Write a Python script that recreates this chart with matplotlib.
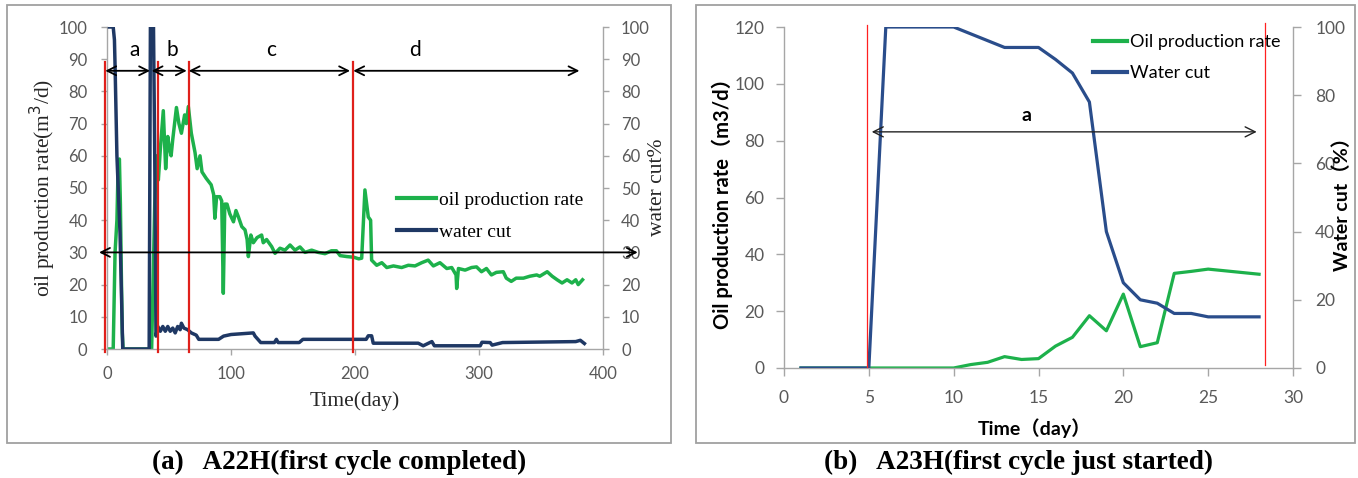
import matplotlib
matplotlib.use("Agg")
import matplotlib.pyplot as plt
from matplotlib.patches import Rectangle
from matplotlib.lines import Line2D

# ---------------- data: panel (a) A22H ----------------
a_oil_day = [1, 5, 6.5, 8, 9, 10, 10.8, 11.5, 12.3, 13, 36, 38.5, 40, 41.4, 43, 45.4, 47.3, 49, 50, 51.7,
             53, 56, 58, 60, 62.6, 64, 65.6, 68, 71, 72.7, 75, 76.6, 80, 84, 86, 87, 88.4, 91, 92.5, 93.8,
             95, 96.8, 99, 102, 104, 106, 108.7, 111.3, 113, 114, 116, 118, 121, 124.7, 126, 128.7, 132.8,
             135.5, 139.5, 143.5, 147.6, 151.6, 155.6, 159.7, 165, 170.4, 175.8, 181, 185, 188, 193.5, 199,
             203, 205.4, 208, 210.7, 212.6, 213.4, 217.5, 221.6, 225.6, 231, 237.6, 243, 248.4, 253.8, 259,
             263.2, 268.5, 274, 278, 281.5, 282, 283.4, 288.8, 294, 298, 302, 306, 310, 314, 319.6, 322, 326,
             330, 335.8, 341, 346.5, 349, 355, 359, 363, 367, 371, 375, 378, 380, 383.5]
a_oil_rate = [0, 0, 30, 40, 57, 59, 45, 25, 5, 0, 0, 45, 60, 52.5, 62, 74, 56, 66, 63, 60,
              65, 75, 70, 67, 72.7, 70, 75.3, 67, 61, 56, 60, 55, 53, 51, 48, 40.6, 47.3, 47.3, 46, 17.3,
              45, 45, 42, 39.5, 43, 41, 38, 37, 34, 28.7, 35.4, 33, 34.6, 35.4, 33, 34, 31.8,
              29.7, 31.3, 30.7, 32.3, 30.7, 31.7, 30, 30.7, 30, 29.6, 30.5, 30.5, 29, 28.7, 28.5,
              28, 28.2, 49.4, 41, 40, 27.6, 26, 26.8, 25.3, 25.8, 25.3, 26, 25.8, 26.8, 27.6,
              25.8, 26.8, 25, 25.3, 23, 18.8, 25, 24.5, 25.3, 25.5, 24, 25, 23, 23.8, 24, 22, 21,
              22, 22, 22.6, 23, 22.6, 24, 22.6, 21.5, 20.5, 21.5, 20.5, 21.5, 20, 21.5]

a_wc_day = [2, 5, 6, 6.5, 8, 10.5, 12.7, 34, 35, 37.5, 38.5, 39.5, 41, 43, 45, 47, 49, 51, 53, 55, 57, 59,
            60, 62, 65, 68, 72, 74, 90, 94, 100, 118, 119.4, 124, 135, 136.6, 138, 155, 158, 209, 210.7,
            213.4, 214.7, 251, 255, 262, 264, 301, 302.4, 309, 310.6, 319, 378, 381.7, 385]
a_wc = [100, 100, 96, 88, 60, 36, 0, 0, 100, 100, 60, 4, 7, 5.5, 7, 5.5, 7, 5.5, 6.5, 5, 7, 6,
        8, 6.5, 6, 5, 4.3, 3, 3, 4, 4.5, 5, 4, 2, 2, 3, 2, 2, 3, 3, 4.1,
        4.1, 1.8, 1.8, 1, 2.3, 1, 1, 2.1, 2, 1.2, 2, 2.3, 2.7, 1.7]

a_xticks = [0, 100, 200, 300, 400]
a_yticks = list(range(0, 101, 10))
a_stage_labels = ["a", "b", "c", "d"]

# ---------------- data: panel (b) A23H ----------------
b_day = list(range(1, 29))
b_oil = [0, 0, 0, 0, 0, 0, 0, 0, 0, 0, 1.2, 2.0, 4.0, 3.0, 3.3, 7.7, 10.8, 18.4, 13.1, 26.0,
         7.5, 8.9, 33.3, 34.0, 34.8, 34.2, 33.6, 33.0]
b_wc = [0, 0, 0, 0, 0, 100, 100, 100, 100, 100, 98, 96, 94, 94, 94, 90.5, 86.5, 78, 40, 25,
        20, 19, 16, 16, 15, 15, 15, 15]
b_xticks = [0, 5, 10, 15, 20, 25, 30]
b_yticks_left = [0, 20, 40, 60, 80, 100, 120]
b_yticks_right = [0, 20, 40, 60, 80, 100]

GREEN = "#1DB14B"
NAVY = "#1F3864"
BLUE = "#2A4D8B"
RED = "#E0201B"
GRID_GREY = "#A6A6A6"
TICK_COL = "#595959"

SERIF = "Liberation Serif"
SANS = ["Lato", "Noto Sans CJK SC"]

W, H = 1358, 478
fig = plt.figure(figsize=(W / 100, H / 100), dpi=100)


def fx(px):
    return px / W


def fy(py):
    return 1 - py / H


# panel borders
for x0, x1 in [(7, 671), (696, 1355)]:
    fig.add_artist(Rectangle((fx(x0), fy(443)), fx(x1 - x0), (443 - 5) / H, transform=fig.transFigure,
                             fill=False, edgecolor="#A0A0A0", lw=1.3))


def style_axes(ax, ax2, tick_fs, lpad, rpad, bpad, tlen):
    for a in (ax, ax2):
        a.spines["top"].set_visible(False)
        for s in ("left", "right", "bottom"):
            a.spines[s].set_color(GRID_GREY)
            a.spines[s].set_linewidth(1.0)
        a.tick_params(colors=GRID_GREY, labelcolor=TICK_COL, labelsize=tick_fs, length=tlen, width=1.0)
    ax.spines["right"].set_visible(False)
    ax2.spines["left"].set_visible(False)
    ax2.spines["bottom"].set_visible(False)
    ax.tick_params(axis="y", pad=lpad)
    ax.tick_params(axis="x", pad=bpad)
    ax2.tick_params(axis="y", pad=rpad)
    for lab in ax.get_xticklabels() + ax.get_yticklabels() + ax2.get_yticklabels():
        lab.set_family("Lato")


# ================= panel (a) =================
axA = fig.add_axes([fx(107), fy(349), fx(603 - 107), (349 - 27) / H])
axA2 = axA.twinx()
axA.plot(a_oil_day, a_oil_rate, color=GREEN, lw=2.5, solid_joinstyle="round")
axA2.plot(a_wc_day, a_wc, color=NAVY, lw=2.5, solid_joinstyle="round")
axA.set_xlim(0, 400)
axA.set_ylim(0, 100)
axA2.set_ylim(0, 100)
axA.set_xticks(a_xticks)
axA.set_yticks(a_yticks)
axA2.set_yticks(a_yticks)
style_axes(axA, axA2, 12, 10, 9, 8, 4)

# stage boundaries and arrows
for xr in [-1.4, 40.9, 65.9, 198.6]:
    axA2.plot([xr, xr], [-1, 89], color=RED, lw=1.6, clip_on=False, zorder=5)
stages = [(-1.4, 34.7), (36.0, 64.3), (65.9, 196.0), (198.6, 381.0)]
label_x = [22.6, 53, 132, 248]
for (s0, s1), lx, lab in zip(stages, label_x, a_stage_labels):
    axA2.annotate("", xy=(s1, 86.4), xytext=(s0, 86.4),
                  arrowprops=dict(arrowstyle="<->", lw=1.3, color="black", shrinkA=0, shrinkB=0,
                                  mutation_scale=16), annotation_clip=False, zorder=6)
    axA2.text(lx, 93, lab, ha="center", va="center", fontsize=15, family="Lato", color="black")
axA2.annotate("", xy=(1.07, 30), xytext=(-0.016, 30), xycoords=("axes fraction", "data"),
              textcoords=("axes fraction", "data"),
              arrowprops=dict(arrowstyle="<->", lw=1.3, color="black", shrinkA=0, shrinkB=0,
                              mutation_scale=16), annotation_clip=False, zorder=6)

legA = axA2.legend([Line2D([], [], color=GREEN, lw=3), Line2D([], [], color=NAVY, lw=3)],
                   ["oil production rate", "water cut"], loc="upper left",
                   bbox_to_anchor=((397 - 107) / 496, (349 - 191) / 322), frameon=False,
                   prop={"family": SERIF, "size": 14}, handlelength=2.0, handletextpad=0.15,
                   labelspacing=0.75, borderaxespad=0, borderpad=0)

fig.text(fx(43), fy(188), "oil production rate(m$^3$/d)", rotation=90, ha="center", va="center",
         family=SERIF, fontsize=15.5, color="#262626")
fig.text(fx(355), fy(401), "Time(day)", ha="center", va="center", family=SERIF, fontsize=15.5, color="#262626")
fig.text(fx(657), fy(187), "water cut%", rotation=90, ha="center", va="center", family=SERIF,
         fontsize=15.5, color="#262626")

# ================= panel (b) =================
axB = fig.add_axes([fx(784), fy(368), fx(1293 - 784), (368 - 27) / H])
axB2 = axB.twinx()
axB.plot(b_day, b_oil, color=GREEN, lw=2.3, solid_joinstyle="round", label="Oil production rate")
axB2.plot(b_day, b_wc, color=BLUE, lw=2.3, solid_joinstyle="round", label="Water cut")
axB.set_xlim(0, 30)
axB.set_ylim(0, 120)
axB2.set_ylim(0, 100)
axB.set_xticks(b_xticks)
axB.set_yticks(b_yticks_left)
axB2.set_yticks(b_yticks_right)
style_axes(axB, axB2, 12.5, 8, 10, 10, 6)

for xr, y0, y1 in [(4.88, 0.5, 120.7), (28.35, 1.0, 121.5)]:
    axB2.plot([xr, xr], [y0, y1], color="#FF2020", lw=0.9, transform=axB.transData, clip_on=False, zorder=5)
axB2.annotate("", xy=(27.86, 83.1), xytext=(5.17, 83.1), xycoords=axB.transData, textcoords=axB.transData,
              arrowprops=dict(arrowstyle="<->", lw=1.0, color="#222222", shrinkA=0, shrinkB=0,
                              mutation_scale=18), zorder=6)
axB2.text(14.3, 89, "a", transform=axB.transData, ha="center", va="center", fontsize=14,
          family="Lato", fontweight="bold")

legB = axB2.legend([Line2D([], [], color=GREEN, lw=3), Line2D([], [], color=BLUE, lw=3)],
                   ["Oil production rate", "Water cut"], loc="upper left",
                   bbox_to_anchor=((1093 - 784) / 509, (368 - 34) / 341), frameon=False,
                   prop={"family": "Lato", "size": 13}, handlelength=1.9, handletextpad=0.15,
                   labelspacing=0.85, borderaxespad=0, borderpad=0)

fig.text(fx(722), fy(199), "Oil production rate（m3/d）", rotation=90, ha="center", va="center",
         family=SANS, fontsize=14.5, fontweight="bold")
fig.text(fx(1035), fy(428), "Time（day）", ha="center", va="center", family=SANS, fontsize=14,
         fontweight="bold")
fig.text(fx(1342), fy(199), "Water cut（%）", rotation=90, ha="center", va="center", family=SANS,
         fontsize=14, fontweight="bold")

# captions
fig.text(fx(339), fy(462), "(a)   A22H(first cycle completed)", ha="center", va="center", family=SERIF,
         fontsize=19.5, fontweight="bold")
fig.text(fx(1019), fy(462), "(b)   A23H(first cycle just started)", ha="center", va="center",
         family=SERIF, fontsize=19.5, fontweight="bold")

fig.savefig("out.png", dpi=100)
